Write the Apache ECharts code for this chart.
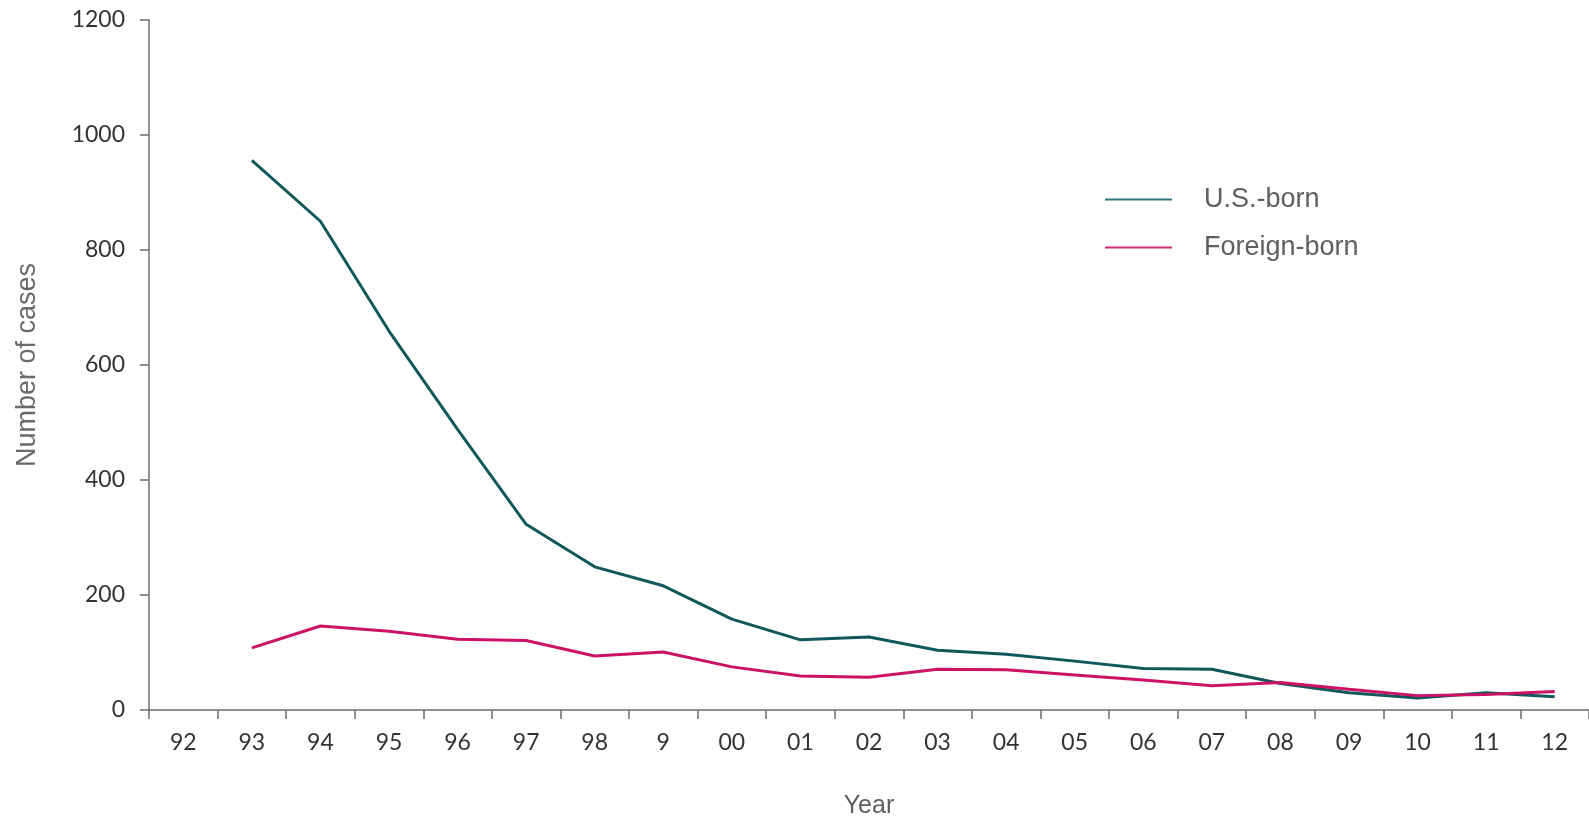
<!DOCTYPE html>
<html>
<head>
<meta charset="utf-8">
<script src="https://cdn.jsdelivr.net/npm/echarts@6/dist/echarts.min.js"></script>
<style>
html,body{margin:0;padding:0;background:#fff;}
#chart{width:1589px;height:817px;}
</style>
</head>
<body>
<div id="chart"></div>
<script>
const years = ['92','93','94','95','96','97','98','9','00','01','02','03','04','05','06','07','08','09','10','11','12'];
const usBorn = [null, 956, 850, 659, 488, 323, 249, 216, 158, 122, 127, 104, 97, 85, 72, 71, 46, 30, 21, 30, 23];
const foreignBorn = [null, 108, 146, 137, 123, 121, 94, 101, 75, 59, 57, 71, 70, 61, 52, 42, 48, 36, 25, 27, 32];
const yTicks = [0, 200, 400, 600, 800, 1000, 1200];

const chart = echarts.init(document.getElementById('chart'));
chart.setOption({
  animation: false,
  backgroundColor: '#ffffff',
  grid: { left: 149, right: 0, top: 20, bottom: 107, containLabel: false, outerBoundsMode: 'none' },
  legend: {
    left: 1100, top: 181, orient: 'vertical',
    itemWidth: 67, itemHeight: 2, itemGap: 21,
    textStyle: { fontFamily: 'Liberation Sans', fontSize: 27, color: '#5f5f5f', padding: [0, 0, 0, 27] },
    data: [
      { name: 'U.S.-born', icon: 'rect', itemStyle: { color: '#2c7880' } },
      { name: 'Foreign-born', icon: 'rect', itemStyle: { color: '#cf2a72' } }
    ]
  },
  xAxis: {
    type: 'category', data: years, boundaryGap: true,
    name: 'Year', nameLocation: 'middle', nameGap: 84,
    nameTextStyle: { fontFamily: 'Liberation Sans', fontSize: 25, color: '#5f5f5f' },
    axisLine: { lineStyle: { color: '#6e6e6e', width: 1.5 } },
    axisTick: { show: true, alignWithLabel: false, length: 9, lineStyle: { color: '#6e6e6e', width: 1.5 } },
    axisLabel: { fontFamily: 'Lato', fontSize: 23, color: '#333', margin: 21 },
    splitLine: { show: false }
  },
  yAxis: {
    type: 'value', min: yTicks[0], max: yTicks[yTicks.length - 1], interval: 200,
    name: 'Number of cases', nameLocation: 'middle', nameGap: 108,
    nameTextStyle: { fontFamily: 'Liberation Sans', fontSize: 27, color: '#6a6a6a' },
    axisLine: { show: true, lineStyle: { color: '#6e6e6e', width: 1.5 } },
    axisTick: { show: true, length: 9, lineStyle: { color: '#6e6e6e', width: 1.5 } },
    axisLabel: { fontFamily: 'Lato', fontSize: 23, color: '#333', margin: 24, formatter: function (v) { return String(v); } },
    splitLine: { show: false }
  },
  series: [
    { name: 'U.S.-born', type: 'line', data: usBorn, symbol: 'none', connectNulls: false,
      lineStyle: { color: '#11585a', width: 3 }, itemStyle: { color: '#11585a' } },
    { name: 'Foreign-born', type: 'line', data: foreignBorn, symbol: 'none', connectNulls: false,
      lineStyle: { color: '#cc1264', width: 3 }, itemStyle: { color: '#cc1264' } }
  ]
});
</script>
</body>
</html>
